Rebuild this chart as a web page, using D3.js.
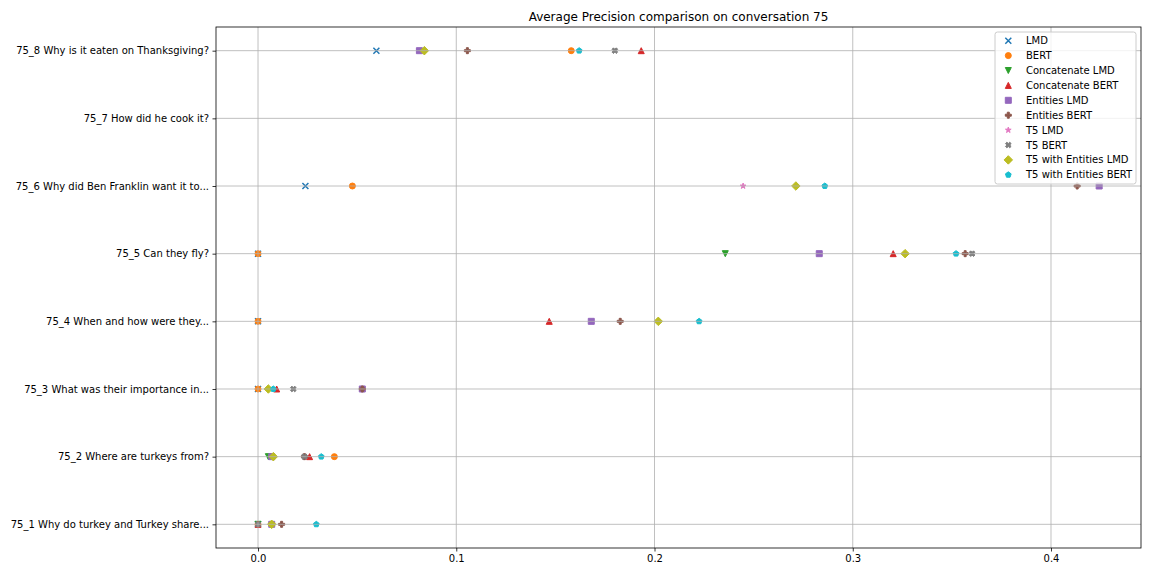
<!DOCTYPE html>
<html><head><meta charset="utf-8">
<script src="https://cdn.jsdelivr.net/npm/d3@7"></script>
<style>body{margin:0;background:#fff}svg{display:block;font-family:"DejaVu Sans",sans-serif}</style>
</head><body>
<svg id="c" width="1152" height="576"></svg>
<script>
const categories = ["75_1 Why do turkey and Turkey share...","75_2 Where are turkeys from?","75_3 What was their importance in...","75_4 When and how were they...","75_5 Can they fly?","75_6 Why did Ben Franklin want it to...","75_7 How did he cook it?","75_8 Why is it eaten on Thanksgiving?"];
const seriesNames = ["LMD","BERT","Concatenate LMD","Concatenate BERT","Entities LMD","Entities BERT","T5 LMD","T5 BERT","T5 with Entities LMD","T5 with Entities BERT"];
const lmd = [0, null, 0, 0, 0, 0.0239, null, 0.0597];
const bert = [0, 0.0385, 0, 0, 0, 0.0476, null, 0.158];
const concatLmd = [0, 0.0052, null, null, 0.2357, null, null, null];
const concatBert = [0, 0.026, 0.0094, 0.1469, 0.3204, null, null, 0.1933];
const entLmd = [0.0069, 0.0069, 0.0526, 0.1681, 0.2831, 0.4243, null, 0.0814];
const entBert = [0.0119, 0.0234, 0.0526, 0.1827, 0.3567, 0.4132, null, 0.1056];
const t5Lmd = [null, null, null, null, null, 0.2447, null, null];
const t5Bert = [0, 0.0234, 0.0178, null, 0.3602, null, null, 0.180];
const t5EntLmd = [0.0069, 0.0077, 0.0052, 0.2019, 0.3264, 0.2713, null, 0.0839];
const t5EntBert = [0.0294, 0.0319, 0.0077, 0.2225, 0.3521, 0.2859, null, 0.162];
const seriesValues = [lmd, bert, concatLmd, concatBert, entLmd, entBert, t5Lmd, t5Bert, t5EntLmd, t5EntBert];
const xTicks = [0.0, 0.1, 0.2, 0.3, 0.4];
const colors = ["#1f77b4","#ff7f0e","#2ca02c","#d62728","#9467bd","#8c564b","#e377c2","#7f7f7f","#bcbd22","#17becf"];
const markers = ["x","o","v","^","s","P","*","X","D","p"];

const L=216, R=1141, T=27, B=548;
const svg = d3.select("#c");
const x = d3.scaleLinear().domain([-0.0212, 0.4454]).range([L, R]);
const y = d3.scaleLinear().domain([-0.35, categories.length - 1 + 0.35]).range([B, T]);

function poly(pts){return "M"+pts.map(p=>p[0].toFixed(3)+","+p[1].toFixed(3)).join("L")+"Z";}
function markerPath(m, ms){
  const h = ms/2;
  switch(m){
    case "o": return `M${h},0A${h},${h} 0 1,1 ${-h},0A${h},${h} 0 1,1 ${h},0Z`;
    case "s": return poly([[-h,-h],[h,-h],[h,h],[-h,h]]);
    case "D": { const d=h*Math.SQRT2; return poly([[0,-d],[d,0],[0,d],[-d,0]]); }
    case "^": return poly([[0,-h],[-h,h],[h,h]]);
    case "v": return poly([[0,h],[-h,-h],[h,-h]]);
    case "x": return `M${-h},${-h}L${h},${h}M${-h},${h}L${h},${-h}`;
    case "P": case "X": {
      const u = ms/6;
      let pts = [[-1,-3],[1,-3],[1,-1],[3,-1],[3,1],[1,1],[1,3],[-1,3],[-1,1],[-3,1],[-3,-1],[-1,-1]].map(p=>[p[0]*u,p[1]*u]);
      if(m==="X"){ const c=Math.SQRT1_2; pts = pts.map(p=>[(p[0]-p[1])*c,(p[0]+p[1])*c]); }
      return poly(pts);
    }
    case "*": {
      const pts=[]; const ri=h*0.381966;
      for(let i=0;i<10;i++){ const a=-Math.PI/2 + i*Math.PI/5; const r=i%2?ri:h; pts.push([r*Math.cos(a), r*Math.sin(a)]); }
      return poly(pts);
    }
    case "p": {
      const pts=[]; for(let i=0;i<5;i++){ const a=-Math.PI/2 + i*2*Math.PI/5; pts.push([h*Math.cos(a), h*Math.sin(a)]); }
      return poly(pts);
    }
  }
}
function drawMarker(g, m, color, cx, cy){
  const p = g.append("path").attr("d", markerPath(m, 6)).attr("transform", `translate(${cx},${cy})`);
  if(m==="x") p.attr("fill","none").attr("stroke",color).attr("stroke-width",1.5);
  else p.attr("fill",color).attr("stroke",color).attr("stroke-width",1.0).attr("stroke-linejoin","miter");
}

svg.append("text").attr("x",(L+R)/2).attr("y",T-6).attr("text-anchor","middle").attr("font-size",12).attr("fill","#000").text("Average Precision comparison on conversation 75");

svg.append("clipPath").attr("id","clipA").append("rect").attr("x",L).attr("y",T).attr("width",R-L).attr("height",B-T);
const mg = svg.append("g").attr("clip-path","url(#clipA)");
seriesValues.forEach((vals, si) => {
  vals.forEach((v, ci) => { if(v!==null) drawMarker(mg, markers[si], colors[si], x(v), y(ci)); });
});

const gg = svg.append("g");
xTicks.forEach(t => gg.append("line").attr("x1",x(t)).attr("x2",x(t)).attr("y1",T).attr("y2",B).attr("stroke","#b0b0b0").attr("stroke-width",0.8));
categories.forEach((c,i) => gg.append("line").attr("x1",L).attr("x2",R).attr("y1",y(i)).attr("y2",y(i)).attr("stroke","#b0b0b0").attr("stroke-width",0.8));

const xAxis = d3.axisBottom(x).tickValues(xTicks).tickFormat(d3.format(".1f")).tickSize(3.5).tickPadding(3.5);
const xa = svg.append("g").attr("transform",`translate(0,${B})`).call(xAxis);
const yAxis = d3.axisLeft(y).tickValues(d3.range(categories.length)).tickFormat(i=>categories[i]).tickSize(3.5).tickPadding(3.5);
const ya = svg.append("g").attr("transform",`translate(${L},0)`).call(yAxis);
[xa,ya].forEach(a=>{ a.select(".domain").remove(); a.selectAll("text").attr("font-size",10).attr("fill","#000").attr("font-family","DejaVu Sans"); a.selectAll("line").attr("stroke","#000").attr("stroke-width",0.8); });
svg.append("rect").attr("x",L).attr("y",T).attr("width",R-L).attr("height",B-T).attr("fill","none").attr("stroke","#000").attr("stroke-width",0.8);

const lg = svg.append("g");
lg.append("rect").attr("x",995).attr("y",32).attr("width",141).attr("height",152).attr("rx",2.5).attr("fill","#fff").attr("fill-opacity",0.8).attr("stroke","#cccccc").attr("stroke-width",1);
seriesNames.forEach((n,i)=>{
  const yy = 40.7 + i*14.9;
  drawMarker(lg, markers[i], colors[i], 1008.3, yy);
  lg.append("text").attr("x",1026).attr("y",yy).attr("dy","0.35em").attr("font-size",10).attr("fill","#000").text(n);
});
</script>
</body></html>
